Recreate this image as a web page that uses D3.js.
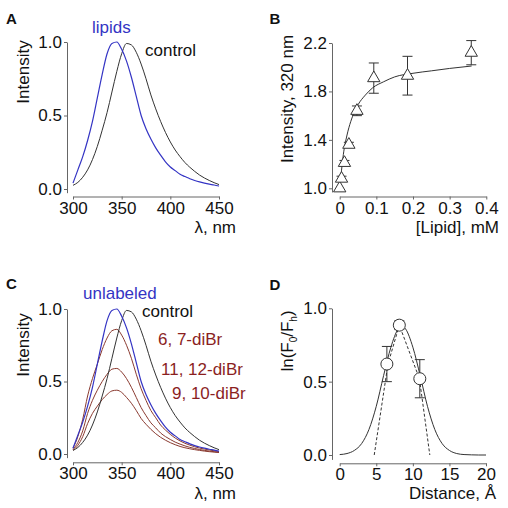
<!DOCTYPE html>
<html><head><meta charset="utf-8">
<script src="https://cdn.jsdelivr.net/npm/d3@7"></script>
<style>body{margin:0;background:#fff}svg{display:block;font-family:"Liberation Sans",Arial,sans-serif}</style>
</head><body><svg id="c" width="508" height="508"></svg>
<script>
// ---------- DATA ----------
const wavelength = [300,305,310,315,320,325,330,335,340,345,350,355,360,365,370,375,380,385,390,395,400,405,410,415,420,425,430,435,440,445,450];
const controlSpec = [0.025,0.045,0.08,0.13,0.20,0.29,0.40,0.52,0.66,0.80,0.92,0.99,0.98,0.93,0.85,0.75,0.64,0.545,0.46,0.385,0.32,0.265,0.22,0.18,0.148,0.12,0.095,0.075,0.058,0.043,0.03];
const lipidSpec = [0.04,0.13,0.22,0.33,0.46,0.62,0.78,0.92,0.99,1.0,0.95,0.87,0.76,0.63,0.50,0.41,0.34,0.28,0.23,0.185,0.15,0.125,0.10,0.085,0.07,0.058,0.048,0.04,0.033,0.027,0.02];
const diBr67 = [0.04,0.12,0.24,0.40,0.52,0.62,0.72,0.80,0.85,0.86,0.82,0.75,0.66,0.55,0.45,0.37,0.30,0.25,0.20,0.165,0.135,0.11,0.09,0.074,0.061,0.05,0.041,0.034,0.028,0.022,0.017];
const diBr1112 = [0.03,0.08,0.16,0.28,0.37,0.44,0.50,0.55,0.585,0.59,0.565,0.52,0.46,0.39,0.32,0.265,0.215,0.18,0.145,0.12,0.10,0.082,0.068,0.056,0.046,0.038,0.031,0.025,0.02,0.016,0.012];
const diBr910 = [0.025,0.06,0.12,0.21,0.28,0.33,0.375,0.41,0.435,0.44,0.425,0.39,0.35,0.30,0.245,0.205,0.17,0.14,0.115,0.095,0.078,0.064,0.052,0.043,0.036,0.03,0.025,0.02,0.016,0.013,0.01];

const lipidConc = [0,0.005,0.013,0.025,0.047,0.093,0.185,0.359];
const intensity320 = [1.0,1.08,1.21,1.36,1.64,1.91,1.93,2.12];
const intensityErr = [0.0,0.02,0.02,0.02,0.04,0.125,0.16,0.10];
const fitConc = [0,0.005,0.01,0.02,0.03,0.04,0.05,0.07,0.09,0.12,0.15,0.2,0.25,0.3,0.36];
const fitInt = [1.0,1.15,1.28,1.44,1.55,1.63,1.69,1.77,1.83,1.88,1.92,1.95,1.97,1.99,2.01];

const distance = [6.45,8.15,10.95];
const lnRatio = [0.62,0.885,0.52];
const lnErr = [0.12,0.03,0.13];
const gaussX = [0,1,2,3,4,5,6,7,8,8.5,9,10,11,12,13,14,15,16,17,18,19,20];
const gaussY = [0.003,0.01,0.031,0.078,0.174,0.332,0.541,0.735,0.86,0.88,0.86,0.735,0.541,0.332,0.174,0.078,0.031,0.01,0.003,0.001,0,0];
const dashX = [4.72,6.6,8.15,10.9,12.32];
const dashY = [0,0.62,0.885,0.52,0];

const specTicks = [300,350,400,450];
const unitTicks = [0,0.5,1.0];
const concTicks = [0,0.1,0.2,0.3,0.4];
const intTicks = [1.0,1.4,1.8,2.2];
const distTicks = [0,5,10,15,20];

// ---------- STYLE ----------
const AX = '#666', BLUE = '#3434c4', BROWN = '#8a3a30', BROWNTXT = '#8b1f1f', DARK = '#333';
const svg = d3.select('#c');
const FS = 17;

function axes(g, x, yAxis, xAxisY, yAxisX, xt, xf, yt, yf) {
  const ax = g.append('g').attr('transform', `translate(0,${xAxisY})`)
    .call(d3.axisBottom(x).tickValues(xt).tickFormat(xf).tickSize(3).tickSizeOuter(0).tickPadding(2));
  const ay = g.append('g').attr('transform', `translate(${yAxisX},0)`)
    .call(d3.axisLeft(yAxis).tickValues(yt).tickFormat(yf).tickSize(3).tickSizeOuter(0).tickPadding(2));
  [ax, ay].forEach(a => {
    a.select('.domain').attr('stroke', AX);
    a.selectAll('.tick line').attr('stroke', AX);
    a.selectAll('text').attr('font-size', FS).attr('fill', '#111').attr('font-family', '"Liberation Sans",Arial,sans-serif');
  });
}
function text(x, y, s, opts = {}) {
  return svg.append('text').attr('x', x).attr('y', y).text(s)
    .attr('font-size', opts.fs || FS).attr('fill', opts.fill || '#111')
    .attr('text-anchor', opts.anchor || 'start').attr('font-weight', opts.bold ? 'bold' : null);
}
function ytitle(x, y, s) {
  return svg.append('text').attr('transform', `translate(${x},${y}) rotate(-90)`)
    .attr('text-anchor', 'middle').attr('font-size', FS).attr('fill', '#111').text(s);
}
function specLine(g, x, y, vals, color, w) {
  const line = d3.line().x((d, i) => x(wavelength[i])).y(d => y(d)).curve(d3.curveMonotoneX);
  g.append('path').attr('d', line(vals)).attr('fill', 'none').attr('stroke', color).attr('stroke-width', w || 1);
}
const f1 = d3.format('.1f');

// ---------- PANEL A ----------
{
  const g = svg.append('g');
  const x = d3.scaleLinear().domain([300, 450]).range([73, 219]);
  const y = d3.scaleLinear().domain([0, 1]).range([189, 42]);
  const yA = y.copy().domain([-0.025, 1]).range([y(-0.025), y(1)]);
  axes(g, x, yA, 196.5, 67, specTicks, d3.format('d'), unitTicks, f1);
  specLine(g, x, y, controlSpec, DARK, 1);
  specLine(g, x, y, lipidSpec, BLUE, 1.2);
  text(6, 24, 'A', {bold: true, fs: 15});
  text(92, 33, 'lipids', {fill: BLUE});
  text(145, 56, 'control');
  ytitle(29, 72, 'Intensity');
  text(236, 233, 'λ, nm', {anchor: 'end'});
}
// ---------- PANEL B ----------
{
  const g = svg.append('g');
  const x = d3.scaleLinear().domain([0, 0.4]).range([339.7, 486.3]);
  const y = d3.scaleLinear().domain([1.0, 2.2]).range([188.3, 43]);
  const yA = y.copy().domain([0.97, 2.2]).range([y(0.97), y(2.2)]);
  axes(g, x, yA, 196.5, 332, concTicks, d => d === 0 ? '0' : f1(d), intTicks, f1);
  const line = d3.line().x((d, i) => x(fitConc[i])).y(d => y(d)).curve(d3.curveMonotoneX);
  g.append('path').attr('d', line(fitInt)).attr('fill', 'none').attr('stroke', DARK).attr('stroke-width', 1);
  lipidConc.forEach((c, i) => {
    const cx = x(c), e = intensityErr[i];
    if (e > 0) {
      const y1 = y(intensity320[i] + e), y2 = y(intensity320[i] - e);
      g.append('line').attr('x1', cx).attr('x2', cx).attr('y1', y1).attr('y2', y2).attr('stroke', DARK);
      [y1, y2].forEach(yy => g.append('line').attr('x1', cx - 5).attr('x2', cx + 5).attr('y1', yy).attr('y2', yy).attr('stroke', DARK));
    }
  });
  g.selectAll('path.tri').data(lipidConc).join('path').attr('class', 'tri')
    .attr('d', d3.symbol(d3.symbolTriangle).size(66))
    .attr('transform', (d, i) => `translate(${x(d)},${y(intensity320[i])})`)
    .attr('fill', '#fff').attr('stroke', DARK).attr('stroke-width', 1);
  text(269.5, 24, 'B', {bold: true, fs: 15});
  ytitle(293, 99, 'Intensity, 320 nm');
  text(499, 233, '[Lipid], mM', {anchor: 'end'});
}
// ---------- PANEL C ----------
{
  const g = svg.append('g');
  const x = d3.scaleLinear().domain([300, 450]).range([73, 219]);
  const y = d3.scaleLinear().domain([0, 1]).range([454, 309]);
  const yA = y.copy().domain([-0.025, 1]).range([y(-0.025), y(1)]);
  axes(g, x, yA, 462.3, 67, specTicks, d3.format('d'), unitTicks, f1);
  specLine(g, x, y, diBr910, BROWN, 1);
  specLine(g, x, y, diBr1112, BROWN, 1);
  specLine(g, x, y, diBr67, BROWN, 1);
  specLine(g, x, y, controlSpec, DARK, 1);
  specLine(g, x, y, lipidSpec, BLUE, 1.2);
  text(6, 289, 'C', {bold: true, fs: 15});
  text(83, 299, 'unlabeled', {fill: BLUE});
  text(142, 317, 'control');
  text(158, 345, '6, 7-diBr', {fill: BROWNTXT});
  text(161, 375, '11, 12-diBr', {fill: BROWNTXT});
  text(172, 399, '9, 10-diBr', {fill: BROWNTXT});
  ytitle(29, 345, 'Intensity');
  text(236, 499, 'λ, nm', {anchor: 'end'});
}
// ---------- PANEL D ----------
{
  const g = svg.append('g');
  const x = d3.scaleLinear().domain([0, 20]).range([339.7, 486]);
  const y = d3.scaleLinear().domain([0, 1]).range([455, 308.3]);
  const yA = y.copy().domain([-0.03, 1]).range([y(-0.03), y(1)]);
  axes(g, x, yA, 463.3, 332, distTicks, d3.format('d'), unitTicks, f1);
  const gl = d3.line().x((d, i) => x(gaussX[i])).y(d => y(d)).curve(d3.curveMonotoneX);
  g.append('path').attr('d', gl(gaussY)).attr('fill', 'none').attr('stroke', DARK).attr('stroke-width', 1);
  const dl = d3.line().x((d, i) => x(dashX[i])).y(d => y(d));
  g.append('path').attr('d', dl(dashY)).attr('fill', 'none').attr('stroke', DARK).attr('stroke-width', 1).attr('stroke-dasharray', '3,2');
  distance.forEach((dv, i) => {
    const cx = x(dv), y1 = y(lnRatio[i] + lnErr[i]), y2 = y(lnRatio[i] - lnErr[i]);
    g.append('line').attr('x1', cx).attr('x2', cx).attr('y1', y1).attr('y2', y2).attr('stroke', DARK);
    [y1, y2].forEach(yy => g.append('line').attr('x1', cx - 5).attr('x2', cx + 5).attr('y1', yy).attr('y2', yy).attr('stroke', DARK));
  });
  g.selectAll('circle.pt').data(distance).join('circle').attr('class', 'pt')
    .attr('cx', d => x(d)).attr('cy', (d, i) => y(lnRatio[i])).attr('r', 6)
    .attr('fill', '#fff').attr('stroke', DARK).attr('stroke-width', 1);
  text(269.5, 290, 'D', {bold: true, fs: 15});
  const t = svg.append('text').attr('transform', 'translate(293,341) rotate(-90)')
    .attr('text-anchor', 'middle').attr('font-size', FS).attr('fill', '#111');
  t.append('tspan').text('ln(F');
  t.append('tspan').attr('dy', 4).attr('font-size', 10).text('0');
  t.append('tspan').attr('dy', -4).text('/F');
  t.append('tspan').attr('dy', 4).attr('font-size', 10).text('h');
  t.append('tspan').attr('dy', -4).text(')');
  text(496, 499, 'Distance, Å', {anchor: 'end'});
}
</script></body></html>
